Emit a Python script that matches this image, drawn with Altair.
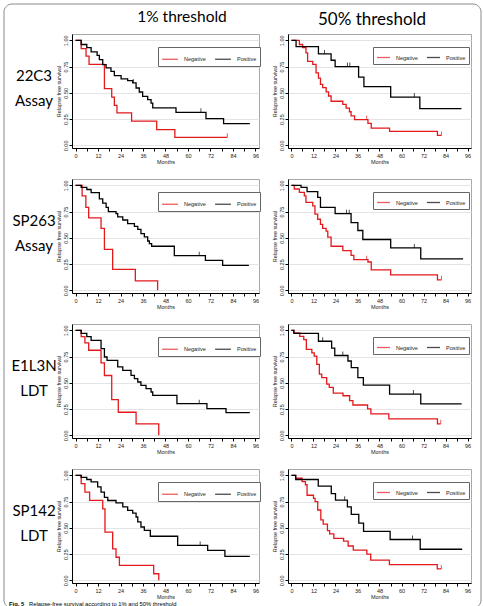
import altair as alt
import pandas as pd

# ---------------- data ----------------
groups = ["Negative", "Positive"]
colors = ["#e3191c", "#000000"]
month_ticks = list(range(0, 97, 6))
surv_ticks = [0.0, 0.25, 0.5, 0.75, 1.0]
col_headers = ["1% threshold", "50% threshold"]
row_labels = [["22C3", "Assay"], ["SP263", "Assay"], ["E1L3N", "LDT"], ["SP142", "LDT"]]
caption_bold = "Fig. 5"
caption_text = "Relapse-free survival according to 1% and 50% threshold"

# 22C3, 1%
A_neg_t = [0, 3, 5.6, 7.2, 15.4, 19.3, 20.7, 22.1, 29.9, 43.3, 53.0, 81.0]
A_neg_s = [1.0, 0.92, 0.85, 0.77, 0.54, 0.46, 0.38, 0.31, 0.23, 0.15, 0.077, 0.077]
A_pos_t = [0, 3, 6, 8.3, 11.5, 12.7, 14.5, 16.3, 18.9, 20.7, 24.3, 27.8, 30.5, 32.3, 34.0, 35.8, 38.5, 40.3, 41.2, 53.6, 69.6, 79.0, 93.0]
A_pos_s = [1.0, 0.96, 0.93, 0.89, 0.857, 0.816, 0.768, 0.737, 0.705, 0.664, 0.632, 0.616, 0.594, 0.546, 0.508, 0.467, 0.435, 0.403, 0.356, 0.315, 0.254, 0.207, 0.207]
A_cen_t = [30.8, 66.9, 81.0]
A_cen_s = [0.594, 0.315, 0.077]
A_cen_g = ["Positive", "Positive", "Negative"]

# 22C3, 50%
B_neg_t = [0, 4.3, 6.1, 7.9, 8.8, 11.6, 13.4, 14.7, 15.8, 17.0, 18.9, 20.2, 21.6, 28.0, 29.8, 31.6, 32.5, 34.4, 41.7, 43.5, 53.5, 79.6, 81.8]
B_neg_s = [1.0, 0.96, 0.93, 0.88, 0.80, 0.77, 0.69, 0.64, 0.58, 0.55, 0.51, 0.47, 0.42, 0.39, 0.355, 0.32, 0.28, 0.245, 0.21, 0.165, 0.133, 0.095, 0.095]
B_pos_t = [0, 2.5, 14.7, 21.6, 23.8, 36.6, 39.5, 54.1, 70.0, 92.7]
B_pos_s = [1.0, 0.94, 0.87, 0.81, 0.75, 0.65, 0.56, 0.46, 0.35, 0.35]
B_cen_t = [18.0, 30.5, 31.8, 67.0, 41.0, 81.8]
B_cen_s = [0.87, 0.75, 0.75, 0.46, 0.245, 0.095]
B_cen_g = ["Positive", "Positive", "Positive", "Positive", "Negative", "Negative"]

# SP263, 1%
C_neg_t = [0, 3.5, 5.5, 7.0, 13.6, 15.4, 19.8, 31.9, 43.8]
C_neg_s = [1.0, 0.90, 0.79, 0.69, 0.59, 0.39, 0.20, 0.09, 0.0]
C_pos_t = [0, 3, 6, 8.3, 12.7, 14.5, 16.3, 17.5, 21.6, 22.5, 25.2, 27.8, 31.4, 33.2, 34.9, 36.7, 38.5, 39.4, 40.6, 52.7, 69.3, 78.5, 92.5]
C_pos_s = [1.0, 0.98, 0.96, 0.93, 0.87, 0.83, 0.79, 0.75, 0.73, 0.70, 0.67, 0.635, 0.61, 0.58, 0.54, 0.51, 0.47, 0.445, 0.42, 0.33, 0.286, 0.238, 0.238]
C_cen_t = [66.0]
C_cen_s = [0.33]
C_cen_g = ["Positive"]

# SP263, 50%
D_neg_t = [0, 1.5, 4.3, 7.0, 7.9, 11.6, 12.8, 14.3, 15.8, 17.0, 18.9, 19.8, 21.6, 28.0, 32.5, 34.0, 41.7, 43.5, 54.1, 79.6, 81.8]
D_neg_s = [1.0, 0.965, 0.933, 0.90, 0.837, 0.805, 0.725, 0.677, 0.628, 0.59, 0.564, 0.506, 0.42, 0.378, 0.333, 0.292, 0.27, 0.196, 0.148, 0.10, 0.10]
D_pos_t = [0, 5.2, 8.5, 14.3, 15.8, 23.8, 32.5, 36.2, 38.9, 54.1, 70.5, 93.6]
D_pos_s = [1.0, 0.98, 0.94, 0.885, 0.79, 0.73, 0.645, 0.57, 0.484, 0.404, 0.30, 0.30]
D_cen_t = [30.0, 31.5, 67.0, 41.0, 81.8]
D_cen_s = [0.73, 0.73, 0.404, 0.292, 0.10]
D_cen_g = ["Positive", "Positive", "Positive", "Negative", "Negative"]

# E1L3N, 1%
E_neg_t = [0, 3, 5, 7, 13.6, 15.4, 19.3, 22.8, 32.3, 44.4]
E_neg_s = [1.0, 0.94, 0.88, 0.81, 0.69, 0.57, 0.34, 0.22, 0.11, 0.0]
E_pos_t = [0, 3, 6, 8.3, 13.6, 15.4, 16.8, 22.5, 25.2, 29.6, 31.4, 33.2, 34.9, 37.6, 40.3, 41.2, 54.1, 70.1, 80.3, 93.0]
E_pos_s = [1.0, 0.97, 0.94, 0.905, 0.825, 0.746, 0.714, 0.651, 0.619, 0.571, 0.54, 0.508, 0.476, 0.444, 0.413, 0.381, 0.302, 0.254, 0.216, 0.216]
E_cen_t = [66.0]
E_cen_s = [0.302]
E_cen_g = ["Positive"]

# E1L3N, 50%
F_neg_t = [0, 1.3, 4.5, 6.7, 8.1, 11.1, 12.4, 13.8, 15.2, 16.5, 19.2, 20.6, 22.8, 28.1, 31.7, 33.5, 41.5, 43.3, 53.1, 79.6, 81.4]
F_neg_s = [1.0, 0.975, 0.943, 0.912, 0.818, 0.786, 0.755, 0.676, 0.582, 0.55, 0.487, 0.456, 0.403, 0.377, 0.33, 0.289, 0.252, 0.204, 0.157, 0.11, 0.11]
F_pos_t = [0, 1.3, 14.7, 21.9, 23.6, 30.8, 32.6, 36.2, 39.2, 53.5, 70.5, 92.8]
F_pos_s = [1.0, 0.97, 0.896, 0.83, 0.76, 0.708, 0.645, 0.55, 0.478, 0.393, 0.299, 0.299]
F_cen_t = [17.0, 28.0, 66.5, 81.4]
F_cen_s = [0.896, 0.76, 0.393, 0.11]
F_cen_g = ["Positive", "Positive", "Positive", "Negative"]

# SP142, 1%
G_neg_t = [0, 3, 5, 7.5, 14.5, 15.7, 19.8, 21.6, 23.4, 41.7, 44.4]
G_neg_s = [1.0, 0.92, 0.84, 0.762, 0.68, 0.46, 0.30, 0.22, 0.143, 0.063, 0.0]
G_pos_t = [0, 3, 6, 8.3, 11.8, 13.6, 15.4, 17.2, 21.6, 25.2, 27.8, 30.5, 32.3, 33.2, 34.9, 36.7, 39.9, 54.5, 70.5, 79.7, 93.0]
G_pos_s = [1.0, 0.98, 0.96, 0.937, 0.89, 0.84, 0.79, 0.76, 0.737, 0.70, 0.667, 0.64, 0.603, 0.556, 0.508, 0.476, 0.42, 0.333, 0.286, 0.229, 0.229]
G_cen_t = [66.5]
G_cen_s = [0.333]
G_cen_g = ["Positive"]

# SP142, 50%
H_neg_t = [0, 2.3, 5.8, 7.6, 8.5, 12.0, 12.9, 14.3, 16.0, 17.3, 19.6, 20.8, 23.1, 28.4, 30.9, 33.7, 41.1, 43.2, 53.4, 79.5, 81.7]
H_neg_s = [1.0, 0.972, 0.94, 0.91, 0.81, 0.78, 0.75, 0.67, 0.576, 0.536, 0.474, 0.442, 0.399, 0.374, 0.327, 0.287, 0.25, 0.193, 0.15, 0.109, 0.109]
H_pos_t = [0, 2.3, 14.6, 21.7, 24.0, 30.5, 32.6, 36.7, 39.3, 53.8, 70.2, 93.1]
H_pos_s = [1.0, 0.96, 0.897, 0.826, 0.763, 0.70, 0.629, 0.545, 0.467, 0.389, 0.296, 0.296]
H_cen_t = [29.0, 66.0, 81.7]
H_cen_s = [0.763, 0.389, 0.109]
H_cen_g = ["Positive", "Positive", "Negative"]

# ---------------- chart construction ----------------
AXFONT = "Liberation Sans"
LABFONT = "Lato"
PH = 114
WL, WR = 187, 183
one = pd.DataFrame({"v": [0]})


def km_frame(nt, ns, pt, ps):
    rows = [{"t": t, "s": s, "group": groups[0]} for t, s in zip(nt, ns)]
    rows += [{"t": t, "s": s, "group": groups[1]} for t, s in zip(pt, ps)]
    return pd.DataFrame(rows)


def cen_frame(ct, cs, cg):
    return pd.DataFrame({"t": ct, "s": cs, "group": cg})


def text_layer(txt, x, y, size, weight="normal", align="center", font=LABFONT):
    return alt.Chart(one).mark_text(
        text=txt, font=font, fontSize=size, fontWeight=weight, align=align,
        baseline="alphabetic", color="#000000"
    ).encode(x=alt.value(x), y=alt.value(y))


def panel(df, cdf, width, legend_x, sym, extra):
    xs = alt.Scale(domain=[-1.9, 97.9], nice=False, zero=False)
    ys = alt.Scale(domain=[-0.025, 1.06], nice=False, zero=False)
    xax = alt.Axis(values=month_ticks, labelExpr="datum.value % 12 == 0 ? datum.label : ''",
                   grid=False, labelFlush=False, labelOverlap=False, labelPadding=2,
                   titlePadding=1, tickSize=3)
    yax = alt.Axis(values=surv_ticks, format=".2f", labelAngle=270, labelAlign="center",
                   labelBaseline="bottom", labelPadding=1, labelOverlap=False, labelFlush=False,
                   titlePadding=2, grid=True, gridColor="#e4e4e4", tickSize=3)
    cscale = alt.Scale(domain=groups, range=colors)
    leg = alt.Legend(orient="none", legendX=legend_x, legendY=13, direction="horizontal",
                     title=None, symbolType="stroke", symbolSize=sym, symbolStrokeWidth=1.3,
                     labelFont=AXFONT, labelFontSize=5.5, labelColor="#222222", labelOffset=5,
                     columnPadding=6, padding=3, strokeColor="#666666", fillColor="#ffffff",
                     cornerRadius=0)
    xenc = alt.X("t:Q", scale=xs, axis=xax, title="Months")
    yenc = alt.Y("s:Q", scale=ys, axis=yax, title="Relapse free survival")
    cenc = alt.Color("group:N", scale=cscale, legend=leg)
    line = alt.Chart(df).mark_line(interpolate="step-after", strokeWidth=1.3).encode(
        x=xenc, y=yenc, color=cenc)
    cen = alt.Chart(cdf).mark_tick(orient="vertical", size=4, thickness=1, yOffset=-2).encode(
        x=xenc, y=yenc, color=cenc)
    return alt.layer(line, cen, *extra).properties(width=width, height=PH)


border = alt.Chart(one).mark_rect(fillOpacity=0, stroke="#8a8a8a", strokeWidth=1, cornerRadius=8).encode(
    x=alt.value(-68), x2=alt.value(409), y=alt.value(-30), y2=alt.value(574)
)


def row_texts(i):
    return [text_layer(row_labels[i][0], -38, 47, 15), text_layer(row_labels[i][1], -38, 72, 15)]


pA = panel(km_frame(A_neg_t, A_neg_s, A_pos_t, A_pos_s), cen_frame(A_cen_t, A_cen_s, A_cen_g), WL, 86, 250,
           [border, text_layer(col_headers[0], 110, -12, 15.5)] + row_texts(0))
pB = panel(km_frame(B_neg_t, B_neg_s, B_pos_t, B_pos_s), cen_frame(B_cen_t, B_cen_s, B_cen_g), WR, 85, 170,
           [text_layer(col_headers[1], 84, -9, 17)])
pC = panel(km_frame(C_neg_t, C_neg_s, C_pos_t, C_pos_s), cen_frame(C_cen_t, C_cen_s, C_cen_g), WL, 86, 250,
           row_texts(1))
pD = panel(km_frame(D_neg_t, D_neg_s, D_pos_t, D_pos_s), cen_frame(D_cen_t, D_cen_s, D_cen_g), WR, 85, 170, [])
pE = panel(km_frame(E_neg_t, E_neg_s, E_pos_t, E_pos_s), cen_frame(E_cen_t, E_cen_s, E_cen_g), WL, 86, 250,
           row_texts(2))
pF = panel(km_frame(F_neg_t, F_neg_s, F_pos_t, F_pos_s), cen_frame(F_cen_t, F_cen_s, F_cen_g), WR, 85, 170, [])
pG = panel(km_frame(G_neg_t, G_neg_s, G_pos_t, G_pos_s), cen_frame(G_cen_t, G_cen_s, G_cen_g), WL, 86, 250,
           row_texts(3) + [text_layer(caption_bold, -63, 137, 5.8, "bold", "left", AXFONT),
                           text_layer(caption_text, -43, 137, 5.8, "normal", "left", AXFONT)])
pH = panel(km_frame(H_neg_t, H_neg_s, H_pos_t, H_pos_s), cen_frame(H_cen_t, H_cen_s, H_cen_g), WR, 85, 170, [])

chart = alt.concat(
    pA, pB, pC, pD, pE, pF, pG, pH,
    columns=2, spacing={"row": 31, "column": 29}, bounds="flush", align="each"
).resolve_legend(color="independent").properties(
    padding={"left": 3, "top": 3, "right": 0, "bottom": 0}
).configure_view(
    stroke="#a8a8a8", strokeWidth=1
).configure_axis(
    labelFont=AXFONT, labelFontSize=5.5, labelColor="#222222", labelOverlap=False,
    titleFont=AXFONT, titleFontSize=5.5, titleFontWeight="normal", titleColor="#222222",
    domainColor="#000000", tickColor="#000000", domainWidth=1, tickWidth=1
)

chart.save("out.html", embed_options={"renderer": "svg", "actions": False})
